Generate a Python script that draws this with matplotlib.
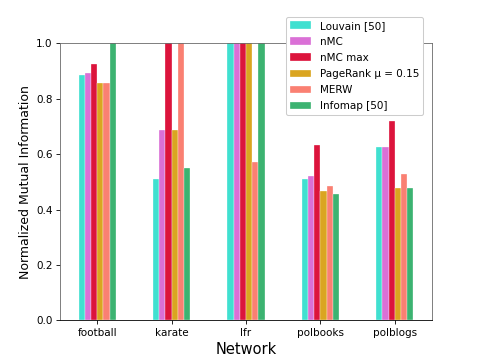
import numpy as np
import matplotlib
matplotlib.use('Agg')
import matplotlib.pyplot as plt

networks = ['football', 'karate', 'lfr', 'polbooks', 'polblogs']
methods = ['Louvain [50]', 'nMC', 'nMC max', 'PageRank μ = 0.15', 'MERW', 'Infomap [50]']
colors = ['turquoise', 'orchid', 'crimson', 'goldenrod', 'salmon', 'mediumseagreen']

# NMI per method, one value per network
louvain = [0.884, 0.509, 1.0, 0.511, 0.626]
nmc = [0.892, 0.687, 1.0, 0.521, 0.626]
nmc_max = [0.924, 1.0, 1.0, 0.632, 0.718]
pagerank = [0.856, 0.687, 1.0, 0.467, 0.478]
merw = [0.856, 1.0, 0.570, 0.484, 0.528]
infomap = [1.0, 0.549, 1.0, 0.455, 0.478]

scores = [louvain, nmc, nmc_max, pagerank, merw, infomap]

fig, ax = plt.subplots(figsize=(6.4, 4.8), dpi=75)

x = np.arange(len(networks))
w = 0.5 / len(methods)
for i, (vals, name, c) in enumerate(zip(scores, methods, colors)):
    offset = (i - (len(methods) - 1) / 2) * w
    ax.bar(x + offset, vals, w, label=name, color=c, edgecolor='white', linewidth=0.3)

ax.set_xticks(x)
ax.set_xticklabels(networks)
ax.set_xlim(-0.5, 4.5)
ax.set_ylim(0, 1.0)
ax.set_xlabel('Network', fontsize=14)
ax.set_ylabel('Normalized Mutual Information', fontsize=12)
for side in ['left', 'top', 'right']:
    ax.spines[side].set_color('dimgray')

ax.legend(loc='upper right', bbox_to_anchor=(0.99, 1.115), framealpha=1.0,
          labelspacing=0.58)

plt.savefig('out.png', dpi=75)
